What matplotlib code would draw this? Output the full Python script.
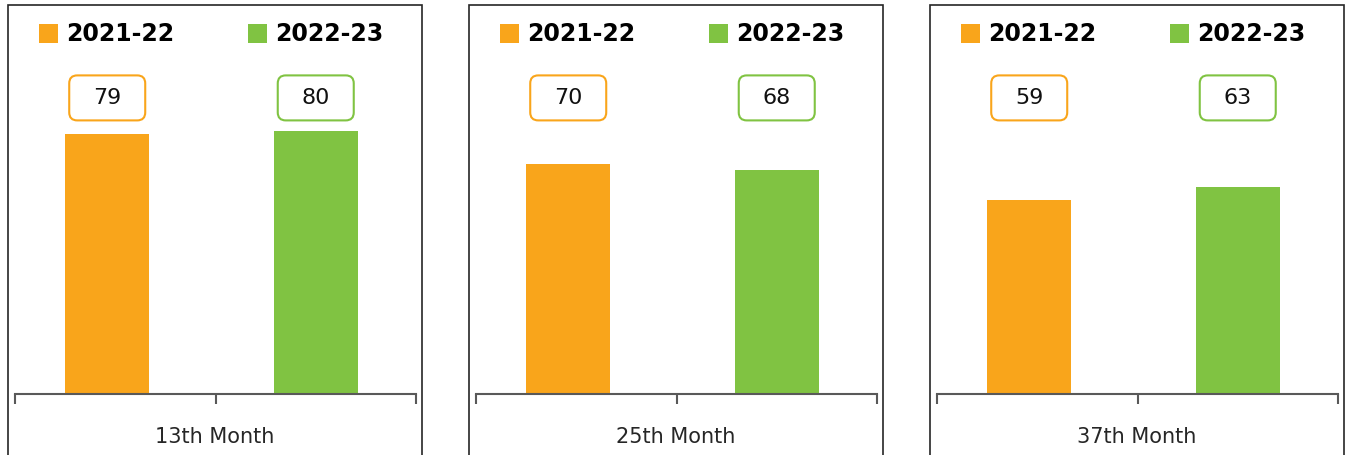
import matplotlib
matplotlib.use("Agg")
import matplotlib.pyplot as plt
from matplotlib.patches import Rectangle, FancyBboxPatch
from matplotlib.transforms import ScaledTranslation

# data
months = ["13th Month", "25th Month", "37th Month"]
years = ["2021-22", "2022-23"]
values_2122 = [79, 70, 59]
values_2223 = [80, 68, 63]

colors = ["#F9A51B", "#80C342"]
W, H = 1351, 455
DPI = 100

fig = plt.figure(figsize=(W / DPI, H / DPI), dpi=DPI)
plt.rcParams["font.family"] = "DejaVu Sans"


def fx(px):
    return px / W


def fy(py):
    # py measured from the top of the image
    return 1 - py / H


panel_lefts = [8, 469, 930]
axis_offsets = [0, 461, 922]
bar_shift = [-0.04, 0.0]  # the orange bar sits a little left of its slot

for i, month in enumerate(months):
    vals = [values_2122[i], values_2223[i]]
    left = panel_lefts[i]

    # panel frame, open at the bottom edge of the image
    fig.patches.append(Rectangle((fx(left), fy(H + 10)), fx(414), fy(5) - fy(H + 10),
                                 transform=fig.transFigure, fill=False,
                                 edgecolor="#262626", lw=1.2, zorder=0))

    # legend
    for j, yr in enumerate(years):
        sx = left + 31 + j * 209
        fig.patches.append(Rectangle((fx(sx), fy(43)), fx(19), fy(24) - fy(43),
                                     transform=fig.transFigure, color=colors[j], lw=0))
        fig.text(fx(sx + 27), fy(34), yr, fontsize=17, fontweight="bold",
                 va="center", ha="left", color="black")

    ax = fig.add_axes([fx(15 + axis_offsets[i]), fy(394), fx(401), (394 - 65) / H])
    x = [k + bar_shift[k] for k in range(2)]
    ax.bar(x, vals, width=0.42, color=colors, zorder=1)
    ax.set_xlim(-0.5, 1.5)
    ax.set_ylim(0, 100)
    ax.set_yticks([])
    ax.set_xticks([-0.5, 0.5, 1.5])
    ax.set_xticklabels([])
    ax.tick_params(axis="x", length=7, width=1.5, color="#595959", direction="out")
    for s in ["left", "top", "right"]:
        ax.spines[s].set_visible(False)
    ax.spines["bottom"].set_color("#595959")
    ax.spines["bottom"].set_linewidth(1.5)
    ax.spines["bottom"].set_zorder(3)
    ax.patch.set_alpha(0)

    # value call-outs
    for j, v in enumerate(vals):
        tr = ScaledTranslation(x[j], 90, ax.transData)
        box = FancyBboxPatch((-38, -22.5), 76, 45, boxstyle="round,pad=0,rounding_size=8",
                             transform=tr, facecolor="white", edgecolor=colors[j],
                             lw=1.5, clip_on=False, zorder=4)
        ax.add_patch(box)
        ax.text(x[j], 90, str(v), fontsize=16, ha="center", va="center",
                color="#111111", zorder=5)

    fig.text(fx(15 + axis_offsets[i] + 200), fy(437), month, fontsize=15,
             ha="center", va="center", color="#262626")

fig.savefig("out.png", dpi=DPI)
